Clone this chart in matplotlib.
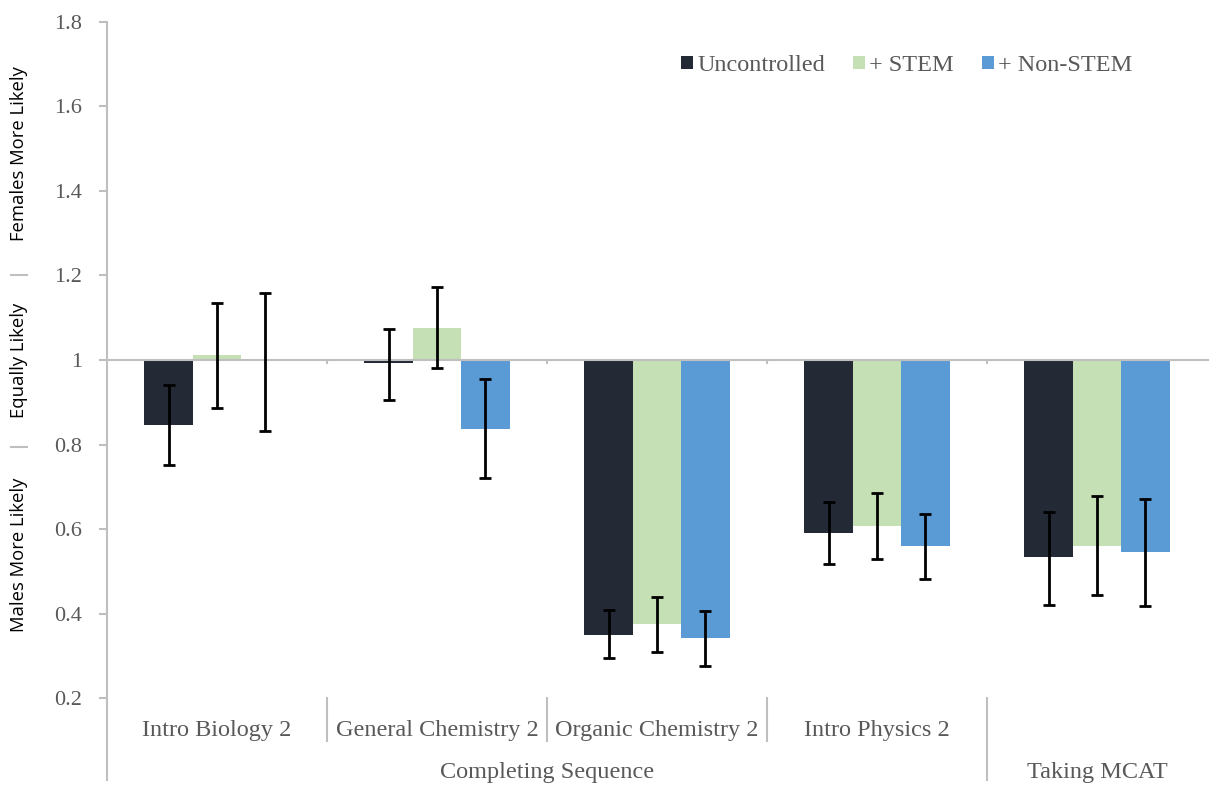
import matplotlib
matplotlib.use("Agg")
import matplotlib.pyplot as plt
import numpy as np

categories = ["Intro Biology 2", "General Chemistry 2", "Organic Chemistry 2", "Intro Physics 2", ""]
groups = ["Completing Sequence", "Taking MCAT"]
series = ["Uncontrolled", "+ STEM", "+ Non-STEM"]

uncontrolled = [0.846, 0.992, 0.350, 0.590, 0.533]
uncontrolled_lo = [0.751, 0.905, 0.295, 0.518, 0.420]
uncontrolled_hi = [0.941, 1.073, 0.409, 0.664, 0.641]

stem = [1.011, 1.076, 0.376, 0.607, 0.559]
stem_lo = [0.887, 0.981, 0.310, 0.529, 0.444]
stem_hi = [1.135, 1.172, 0.439, 0.685, 0.678]

nonstem = [1.000, 0.838, 0.343, 0.559, 0.547]
nonstem_lo = [0.833, 0.721, 0.276, 0.482, 0.418]
nonstem_hi = [1.158, 0.956, 0.406, 0.637, 0.671]

yticks = [0.2, 0.4, 0.6, 0.8, 1.0, 1.2, 1.4, 1.6, 1.8]
ytick_labels = ["0.2", "0.4", "0.6", "0.8", "1", "1.2", "1.4", "1.6", "1.8"]

colors = ["#242a35", "#c5e0b4", "#5b9bd5"]
grey = "#bfbfbf"
textgrey = "#595959"
serif = ["Liberation Serif", "DejaVu Serif"]
sans = ["Open Sans", "DejaVu Sans"]

fig = plt.figure(figsize=(12.09, 7.92), dpi=100)
ax = fig.add_axes([0.0885, 0.1183, 0.9098, 0.8543])

x = np.arange(len(categories))
w = 0.22
vals = [uncontrolled, stem, nonstem]
los = [uncontrolled_lo, stem_lo, nonstem_lo]
his = [uncontrolled_hi, stem_hi, nonstem_hi]
offsets = [-w, 0, w]
for i in range(3):
    v = np.array(vals[i])
    lo = np.array(los[i])
    hi = np.array(his[i])
    ax.bar(x + offsets[i], v - 1, bottom=1, width=w, color=colors[i],
           label=series[i], zorder=2)
    ax.errorbar(x + offsets[i], v, yerr=[v - lo, hi - v], fmt="none",
                ecolor="black", elinewidth=2, capsize=4.5, capthick=2, zorder=4)

ax.set_xlim(-0.5, 4.5)
ax.set_ylim(0.2, 1.8)

# baseline at 1
ax.axhline(1.0, color=grey, lw=1.5, zorder=3, xmin=0, xmax=1.002, clip_on=False)
ax.vlines([0.5, 1.5, 2.5, 3.5], 0.99, 1.0, color=grey, lw=1.5, zorder=3)

for s in ["top", "right", "bottom", "left"]:
    ax.spines[s].set_visible(False)
ax.plot([0, 0], [-0.1208, 1.0], transform=ax.transAxes, color=grey, lw=1.5,
        clip_on=False, zorder=1)

ax.set_yticks(yticks)
ax.set_yticklabels(ytick_labels, fontfamily=serif, fontsize=16, color=textgrey)
ax.tick_params(axis="y", direction="out", length=6, width=1.5, color=grey, pad=12)
ax.set_xticks([])

# category labels
trans = ax.get_xaxis_transform()
for xi, lab in zip(x, categories):
    if lab:
        ax.text(xi, -0.047, lab, transform=trans, ha="center",
                va="center", fontfamily=serif, fontsize=17.5, color=textgrey)
ax.text(1.5, -0.109, groups[0], transform=trans, ha="center",
        va="center", fontfamily=serif, fontsize=17.5, color=textgrey)
ax.text(4.0, -0.109, groups[1], transform=trans, ha="center",
        va="center", fontfamily=serif, fontsize=17.5, color=textgrey)

for sx in [0.5, 1.5, 2.5]:
    ax.plot([sx, sx], [0, -0.063], transform=trans, color=grey, lw=1.5, clip_on=False)
ax.plot([3.5, 3.5], [0, -0.1208], transform=trans, color=grey, lw=1.5, clip_on=False)

# left side annotations
lt = ax.get_yaxis_transform()
ax_x = -0.08
ax.text(ax_x, 1.487, "Females More Likely", transform=lt, rotation=90, ha="center",
        va="center", fontfamily=sans, fontsize=13.3, color="black")
ax.text(ax_x, 1.0, "Equally Likely", transform=lt, rotation=90, ha="center",
        va="center", fontfamily=sans, fontsize=13.3, color="black")
ax.text(ax_x, 0.539, "Males More Likely", transform=lt, rotation=90, ha="center",
        va="center", fontfamily=sans, fontsize=13.3, color="black")
for yy in [1.2, 0.795]:
    ax.plot([ax_x - 0.007, ax_x + 0.007], [yy, yy], transform=lt, color=grey, lw=1.5,
            clip_on=False)

leg = ax.legend(loc="center", bbox_to_anchor=(0.7268, 0.935), ncol=3, frameon=False,
                handlelength=0.5, handleheight=0.5, handletextpad=0.17,
                columnspacing=1.15, prop={"family": serif, "size": 17.5})
for t in leg.get_texts():
    t.set_color(textgrey)

fig.savefig("out.png", dpi=100)
